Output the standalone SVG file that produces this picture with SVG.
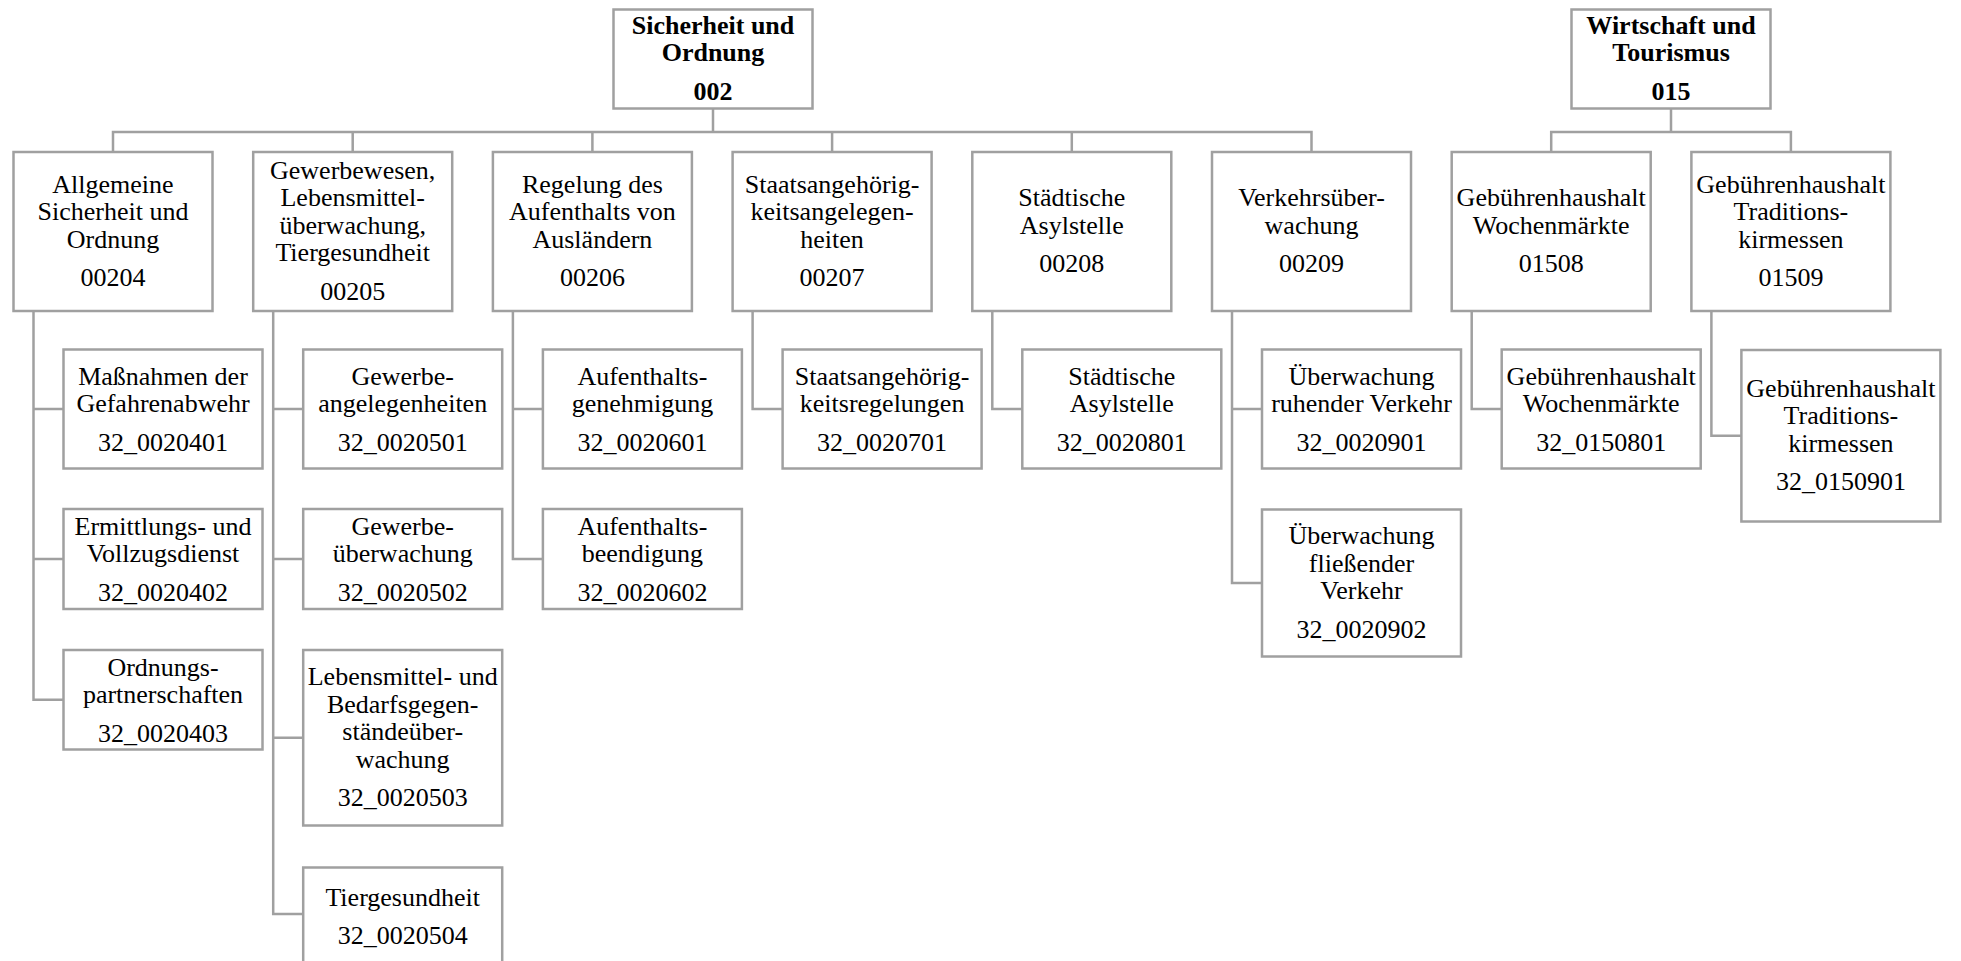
<svg xmlns="http://www.w3.org/2000/svg" width="1961" height="961" viewBox="0 0 1961 961">
<style>
rect{fill:#fff;stroke:#a0a0a0;stroke-width:2.5}
.c path{fill:none;stroke:#a0a0a0;stroke-width:2.5}
text{font-family:"Liberation Serif","Times New Roman",serif;font-size:26px;fill:#000;text-anchor:middle}
.b{font-weight:bold}
</style>
<rect x="0" y="0" width="1961" height="961" style="fill:#fff;stroke:none"/>
<g class="c" id="connectors">
<path d="M713 108.5V132M113 152V132H1311.5V152M352.7 132V152M592.4 132V152M832.1 132V152M1071.8 132V152"/>
<path d="M1671 108.5V132M1551.2 152V132H1790.9V152"/>
<path d="M33.5 311V699.75H63.5M33.5 409H63.5M33.5 559H63.5"/>
<path d="M273.2 311V914H303.2M273.2 409H303.2M273.2 559H303.2M273.2 737.75H303.2"/>
<path d="M512.9 311V559H542.9M512.9 409H542.9"/>
<path d="M752.6 311V409H782.6"/>
<path d="M992.3 311V409H1022.3"/>
<path d="M1232 311V583H1262M1232 409H1262"/>
<path d="M1471.7 311V409H1501.7"/>
<path d="M1711.4 311V435.75H1741.4"/>
</g>
<g id="n002"><rect x="613.5" y="9.5" width="199" height="99"/><text class="b" x="713" y="33.75">Sicherheit und</text><text class="b" x="713" y="61.25">Ordnung</text><text class="b" x="713" y="99.75">002</text></g>
<g id="n015"><rect x="1571.5" y="9.5" width="199" height="99"/><text class="b" x="1671" y="33.75">Wirtschaft und</text><text class="b" x="1671" y="61.25">Tourismus</text><text class="b" x="1671" y="99.75">015</text></g>
<g id="n00204"><rect x="13.5" y="152" width="199" height="159"/><text x="113" y="192.5">Allgemeine</text><text x="113" y="220">Sicherheit und</text><text x="113" y="247.5">Ordnung</text><text x="113" y="286">00204</text></g>
<g id="n00205"><rect x="253.2" y="152" width="199" height="159"/><text x="352.7" y="178.75">Gewerbewesen,</text><text x="352.7" y="206.25">Lebensmittel-</text><text x="352.7" y="233.75">überwachung,</text><text x="352.7" y="261.25">Tiergesundheit</text><text x="352.7" y="299.75">00205</text></g>
<g id="n00206"><rect x="492.9" y="152" width="199" height="159"/><text x="592.4" y="192.5">Regelung des</text><text x="592.4" y="220">Aufenthalts von</text><text x="592.4" y="247.5">Ausländern</text><text x="592.4" y="286">00206</text></g>
<g id="n00207"><rect x="732.6" y="152" width="199" height="159"/><text x="832.1" y="192.5">Staatsangehörig-</text><text x="832.1" y="220">keitsangelegen-</text><text x="832.1" y="247.5">heiten</text><text x="832.1" y="286">00207</text></g>
<g id="n00208"><rect x="972.3" y="152" width="199" height="159"/><text x="1071.8" y="206.25">Städtische</text><text x="1071.8" y="233.75">Asylstelle</text><text x="1071.8" y="272.25">00208</text></g>
<g id="n00209"><rect x="1212" y="152" width="199" height="159"/><text x="1311.5" y="206.25">Verkehrsüber-</text><text x="1311.5" y="233.75">wachung</text><text x="1311.5" y="272.25">00209</text></g>
<g id="n01508"><rect x="1451.7" y="152" width="199" height="159"/><text x="1551.2" y="206.25">Gebührenhaushalt</text><text x="1551.2" y="233.75">Wochenmärkte</text><text x="1551.2" y="272.25">01508</text></g>
<g id="n01509"><rect x="1691.4" y="152" width="199" height="159"/><text x="1790.9" y="192.5">Gebührenhaushalt</text><text x="1790.9" y="220">Traditions-</text><text x="1790.9" y="247.5">kirmessen</text><text x="1790.9" y="286">01509</text></g>
<g id="n0020401"><rect x="63.5" y="349.5" width="199" height="119"/><text x="163" y="384.75">Maßnahmen der</text><text x="163" y="412.25">Gefahrenabwehr</text><text x="163" y="450.75">32_0020401</text></g>
<g id="n0020402"><rect x="63.5" y="509" width="199" height="100"/><text x="163" y="534.75">Ermittlungs- und</text><text x="163" y="562.25">Vollzugsdienst</text><text x="163" y="600.75">32_0020402</text></g>
<g id="n0020403"><rect x="63.5" y="650" width="199" height="99.5"/><text x="163" y="675.5">Ordnungs-</text><text x="163" y="703">partnerschaften</text><text x="163" y="741.5">32_0020403</text></g>
<g id="n0020501"><rect x="303.2" y="349.5" width="199" height="119"/><text x="402.7" y="384.75">Gewerbe-</text><text x="402.7" y="412.25">angelegenheiten</text><text x="402.7" y="450.75">32_0020501</text></g>
<g id="n0020502"><rect x="303.2" y="509" width="199" height="100"/><text x="402.7" y="534.75">Gewerbe-</text><text x="402.7" y="562.25">überwachung</text><text x="402.7" y="600.75">32_0020502</text></g>
<g id="n0020503"><rect x="303.2" y="650" width="199" height="175.5"/><text x="402.7" y="685">Lebensmittel- und</text><text x="402.7" y="712.5">Bedarfsgegen-</text><text x="402.7" y="740">ständeüber-</text><text x="402.7" y="767.5">wachung</text><text x="402.7" y="806">32_0020503</text></g>
<g id="n0020504"><rect x="303.2" y="867.5" width="199" height="102"/><text x="402.7" y="906">Tiergesundheit</text><text x="402.7" y="944">32_0020504</text></g>
<g id="n0020601"><rect x="542.9" y="349.5" width="199" height="119"/><text x="642.4" y="384.75">Aufenthalts-</text><text x="642.4" y="412.25">genehmigung</text><text x="642.4" y="450.75">32_0020601</text></g>
<g id="n0020602"><rect x="542.9" y="509" width="199" height="100"/><text x="642.4" y="534.75">Aufenthalts-</text><text x="642.4" y="562.25">beendigung</text><text x="642.4" y="600.75">32_0020602</text></g>
<g id="n0020701"><rect x="782.6" y="349.5" width="199" height="119"/><text x="882.1" y="384.75">Staatsangehörig-</text><text x="882.1" y="412.25">keitsregelungen</text><text x="882.1" y="450.75">32_0020701</text></g>
<g id="n0020801"><rect x="1022.3" y="349.5" width="199" height="119"/><text x="1121.8" y="384.75">Städtische</text><text x="1121.8" y="412.25">Asylstelle</text><text x="1121.8" y="450.75">32_0020801</text></g>
<g id="n0020901"><rect x="1262" y="349.5" width="199" height="119"/><text x="1361.5" y="384.75">Überwachung</text><text x="1361.5" y="412.25">ruhender Verkehr</text><text x="1361.5" y="450.75">32_0020901</text></g>
<g id="n0020902"><rect x="1262" y="509.5" width="199" height="147"/><text x="1361.5" y="544">Überwachung</text><text x="1361.5" y="571.5">fließender</text><text x="1361.5" y="599">Verkehr</text><text x="1361.5" y="637.5">32_0020902</text></g>
<g id="n0150801"><rect x="1501.7" y="349.5" width="199" height="119"/><text x="1601.2" y="384.75">Gebührenhaushalt</text><text x="1601.2" y="412.25">Wochenmärkte</text><text x="1601.2" y="450.75">32_0150801</text></g>
<g id="n0150901"><rect x="1741.4" y="350" width="199" height="171.5"/><text x="1840.9" y="396.75">Gebührenhaushalt</text><text x="1840.9" y="424.25">Traditions-</text><text x="1840.9" y="451.75">kirmessen</text><text x="1840.9" y="490.25">32_0150901</text></g>
</svg>
